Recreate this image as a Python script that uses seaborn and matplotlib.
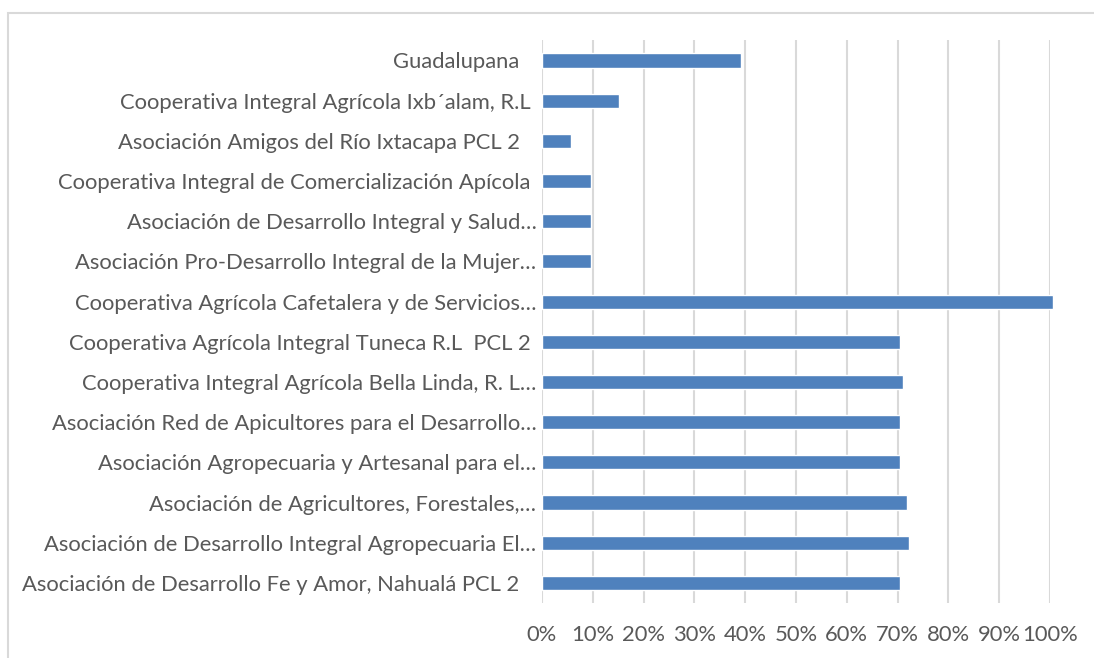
import seaborn as sns
import matplotlib.pyplot as plt
import pandas as pd
from matplotlib.patches import Rectangle
from matplotlib.ticker import PercentFormatter

# organisations, top to bottom as shown in the chart
organizaciones = [
    "Guadalupana   ",
    "Cooperativa Integral Agrícola Ixb´alam, R.L ",
    "Asociación Amigos del Río Ixtacapa PCL 2   ",
    "Cooperativa Integral de Comercialización Apícola ",
    "Asociación de Desarrollo Integral y Salud…",
    "Asociación Pro-Desarrollo Integral de la Mujer…",
    "Cooperativa Agrícola Cafetalera y de Servicios…",
    "Cooperativa Agrícola Integral Tuneca R.L  PCL 2 ",
    "Cooperativa Integral Agrícola Bella Linda, R. L…",
    "Asociación Red de Apicultores para el Desarrollo…",
    "Asociación Agropecuaria y Artesanal para el…",
    "Asociación de Agricultores, Forestales,…",
    "Asociación de Desarrollo Integral Agropecuaria El…",
    "Asociación de Desarrollo Fe y Amor, Nahualá PCL 2   ",
]

# share of each organisation (fraction of 1)
porcentaje = [0.391, 0.151, 0.057, 0.097, 0.097, 0.097, 1.005,
              0.705, 0.711, 0.705, 0.705, 0.719, 0.722, 0.705]

x_ticks = [i / 10 for i in range(11)]

df = pd.DataFrame({"org": organizaciones, "pct": porcentaje})

sns.set_style("white")
plt.rcParams['font.family'] = ['Lato', 'DejaVu Sans']

fig = plt.figure(figsize=(10.94, 6.58), dpi=100)
ax = fig.add_axes([0.4954, 0.0836, 0.4644, 0.855])

sns.barplot(data=df, x="pct", y="org", orient="h", color="#4F81BD",
            width=0.35, saturation=1, ax=ax)
for bar in ax.patches:
    bar.set_clip_on(False)

ax.set_xlim(0, 1.0)
ax.set_xticks(x_ticks)
ax.xaxis.set_major_formatter(PercentFormatter(1.0, decimals=0))
ax.grid(axis="x", color="#D9D9D9", linewidth=1.5)
ax.set_axisbelow(True)
for s in ax.spines.values():
    s.set_visible(False)
ax.tick_params(axis="both", length=0, labelsize=15.8, labelcolor="#595959")
ax.tick_params(axis="x", pad=16)
ax.tick_params(axis="y", pad=4)
ax.set_xlabel("")
ax.set_ylabel("")

# light chart border like the spreadsheet frame
fig.patches.append(Rectangle((8 / 1094, -0.05), 1.1, 0.05 + 1 - 13 / 658,
                             transform=fig.transFigure, fill=False,
                             edgecolor="#D9D9D9", linewidth=1.5))

plt.savefig("out.png", dpi=100)
plt.close()
